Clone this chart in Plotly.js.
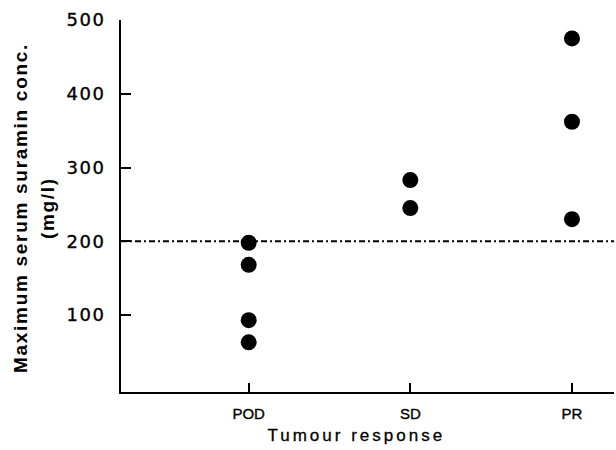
<!DOCTYPE html>
<html>
<head>
<meta charset="utf-8">
<script src="https://cdn.plot.ly/plotly-3.0.1.min.js"></script>
<style>
html,body{margin:0;padding:0;background:#fff;}
#chart{width:616px;height:450px;}
#chart .ytick text{letter-spacing:1.5px;stroke:#000;stroke-width:0.35px;}
#chart .xtick text{stroke:#000;stroke-width:0.35px;}
#chart .annotation[data-index="0"] .annotation-text,
#chart .annotation[data-index="1"] .annotation-text{letter-spacing:1.7px;}
#chart .annotation[data-index="2"] .annotation-text{letter-spacing:3px;stroke:#000;stroke-width:0.3px;}
</style>
</head>
<body>
<div id="chart"></div>
<script>
const categories = ["POD", "SD", "PR"];
const podValues = [198, 168, 93, 63];
const sdValues = [283, 245];
const prValues = [475, 362, 230];
const threshold = 200;
const yTicks = [100, 200, 300, 400, 500];
const yTitleLines = ["Maximum serum suramin conc.", "(mg/l)"];
const xTitle = "Tumour response";

const xs = [], ys = [];
[[categories[0], podValues], [categories[1], sdValues], [categories[2], prValues]].forEach(([c, vals]) => {
  vals.forEach(v => { xs.push(c); ys.push(v); });
});

const trace = {
  type: "scatter", mode: "markers", x: xs, y: ys,
  marker: {color: "#000", size: 16, line: {width: 0}},
  cliponaxis: false, hoverinfo: "skip", showlegend: false
};

const titleFont = {family: "Liberation Sans", size: 19, color: "#000", weight: "bold"};

const layout = {
  width: 616, height: 450,
  margin: {l: 121, r: 2, t: 20, b: 58, pad: 0},
  paper_bgcolor: "#fff", plot_bgcolor: "#fff",
  showlegend: false,
  xaxis: {
    type: "category", categoryorder: "array", categoryarray: categories,
    range: [-0.79, 2.26],
    showline: true, linecolor: "#000", linewidth: 2,
    showgrid: false, zeroline: false,
    ticks: "inside", ticklen: 9, tickwidth: 2, tickcolor: "#000",
    tickfont: {family: "Liberation Sans", size: 15, color: "#000"},
    ticklabelstandoff: 7
  },
  yaxis: {
    range: [-4.4, 500],
    tickvals: yTicks, ticktext: yTicks.map(String),
    showline: true, linecolor: "#000", linewidth: 2,
    showgrid: false, zeroline: false,
    ticks: "inside", ticklen: 10, tickwidth: 2, tickcolor: "#000",
    tickfont: {family: "DejaVu Sans", size: 18, color: "#000"},
    ticklabelstandoff: 10
  },
  annotations: [
    {text: yTitleLines[0], xref: "paper", yref: "paper", x: 0, y: 0.5, xshift: -101, yshift: -2,
     xanchor: "center", yanchor: "middle", textangle: -90, showarrow: false, font: titleFont},
    {text: yTitleLines[1], xref: "paper", yref: "paper", x: 0, y: 0.5, xshift: -74, yshift: -2,
     xanchor: "center", yanchor: "middle", textangle: -90, showarrow: false, font: titleFont},
    {text: xTitle, xref: "paper", yref: "paper", x: 0.478, y: 0, yshift: -43,
     xanchor: "center", yanchor: "middle", showarrow: false,
     font: {family: "Liberation Sans", size: 17, color: "#000"}}
  ],
  shapes: [{
    type: "line", xref: "paper", x0: 0, x1: 1, yref: "y", y0: threshold, y1: threshold,
    line: {color: "#000", width: 2, dash: "6px,3px,2px,3px"}, layer: "below"
  }]
};

Plotly.newPlot("chart", [trace], layout, {displayModeBar: false, staticPlot: true});
</script>
</body>
</html>
